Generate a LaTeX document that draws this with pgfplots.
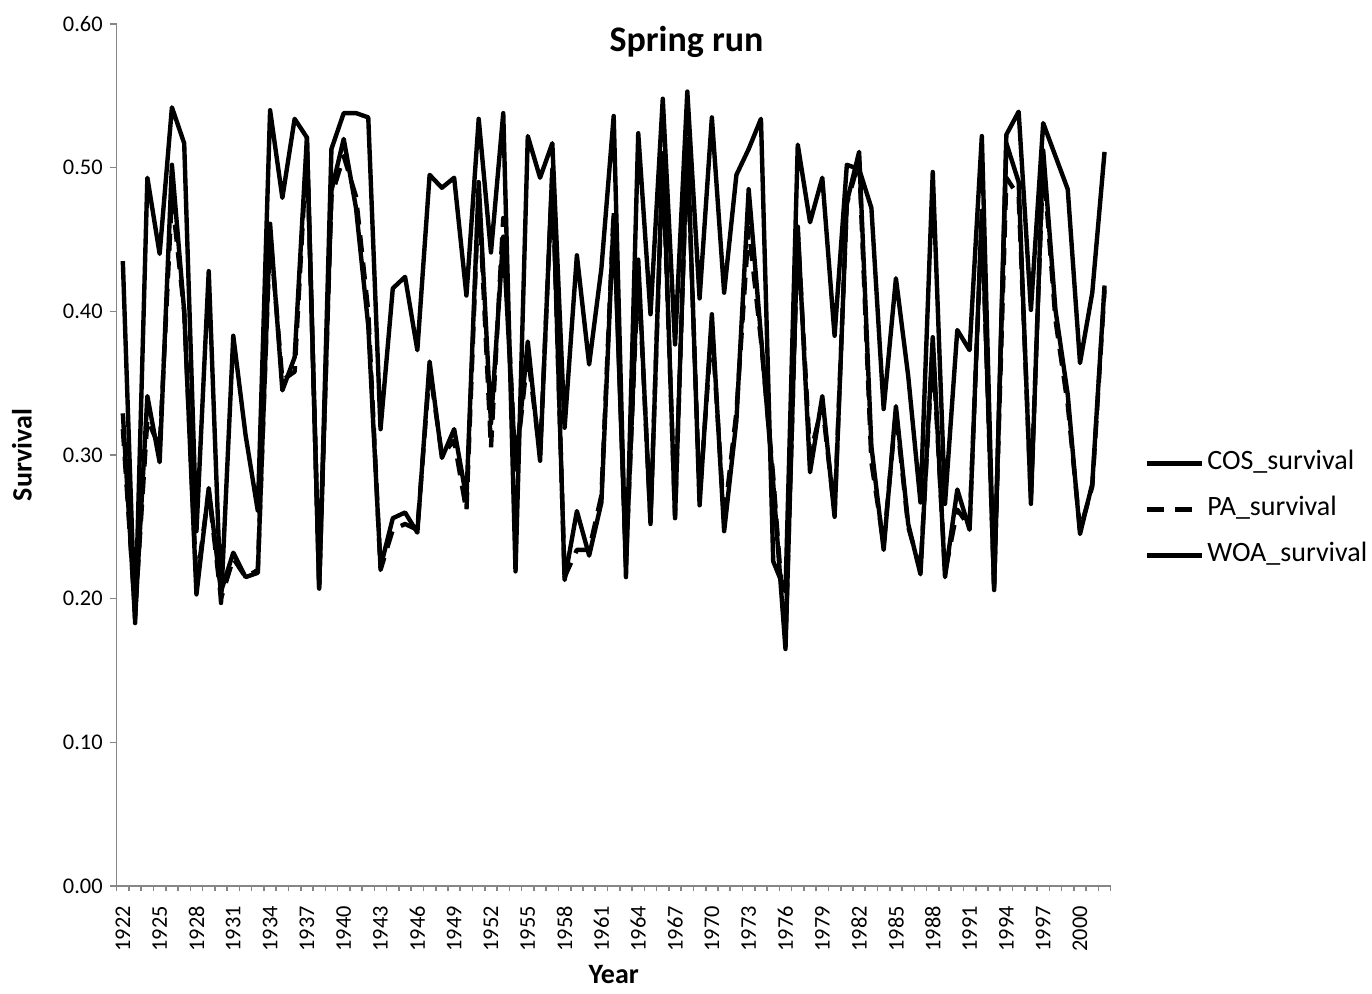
\documentclass[border=0pt]{standalone}
\usepackage{fontspec}
\setmainfont{Carlito}
\usepackage{pgfplots}
\usepackage{pgfplotstable}
\pgfplotsset{compat=1.18}
\definecolor{axgray}{RGB}{134,134,134}

\pgfplotstableread{
year woa cos pa
1922 0.435 0.329 0.318
1923 0.183 0.186 0.190
1924 0.493 0.341 0.325
1925 0.440 0.295 0.305
1926 0.542 0.502 0.480
1927 0.517 0.400 0.400
1928 0.247 0.203 0.210
1929 0.428 0.277 0.275
1930 0.197 0.205 0.200
1931 0.383 0.232 0.228
1932 0.314 0.215 0.215
1933 0.261 0.218 0.220
1934 0.540 0.461 0.455
1935 0.479 0.345 0.352
1936 0.534 0.368 0.358
1937 0.521 0.521 0.515
1938 0.207 0.208 0.210
1939 0.513 0.484 0.480
1940 0.538 0.520 0.508
1941 0.538 0.472 0.480
1942 0.535 0.390 0.400
1943 0.318 0.222 0.220
1944 0.416 0.256 0.248
1945 0.424 0.260 0.252
1946 0.373 0.246 0.248
1947 0.495 0.365 0.360
1948 0.486 0.298 0.300
1949 0.493 0.318 0.310
1950 0.411 0.270 0.261
1951 0.534 0.490 0.485
1952 0.441 0.322 0.305
1953 0.538 0.452 0.465
1954 0.219 0.291 0.290
1955 0.522 0.379 0.370
1956 0.493 0.296 0.300
1957 0.517 0.499 0.495
1958 0.319 0.213 0.215
1959 0.439 0.261 0.234
1960 0.363 0.230 0.234
1961 0.430 0.267 0.272
1962 0.536 0.466 0.470
1963 0.215 0.225 0.225
1964 0.524 0.436 0.430
1965 0.398 0.252 0.255
1966 0.548 0.510 0.505
1967 0.377 0.256 0.258
1968 0.553 0.520 0.515
1969 0.409 0.265 0.270
1970 0.535 0.398 0.390
1971 0.413 0.247 0.255
1972 0.495 0.324 0.330
1973 0.513 0.485 0.458
1974 0.534 0.383 0.380
1975 0.226 0.280 0.285
1976 0.205 0.165 0.170
1977 0.516 0.459 0.455
1978 0.462 0.288 0.300
1979 0.493 0.341 0.335
1980 0.383 0.257 0.260
1981 0.502 0.476 0.475
1982 0.499 0.511 0.505
1983 0.472 0.306 0.295
1984 0.332 0.234 0.238
1985 0.423 0.334 0.330
1986 0.355 0.252 0.250
1987 0.267 0.217 0.220
1988 0.497 0.382 0.375
1989 0.266 0.215 0.218
1990 0.387 0.276 0.262
1991 0.373 0.248 0.250
1992 0.522 0.470 0.465
1993 0.206 0.208 0.210
1994 0.523 0.517 0.493
1995 0.539 0.490 0.480
1996 0.401 0.266 0.270
1997 0.531 0.512 0.505
1998 0.508 0.401 0.394
1999 0.485 0.342 0.335
2000 0.364 0.245 0.248
2001 0.413 0.280 0.278
2002 0.511 0.418 0.415
}\survdata

\begin{document}
\begin{tikzpicture}
\begin{axis}[
  name=ax,
  scale only axis,
  width=497pt, height=431pt,
  xmin=1921.5, xmax=2002.5,
  ymin=0, ymax=0.6,
  axis x line*=bottom, axis y line*=left,
  axis line style={-, draw=axgray, line width=0.8pt},
  tick style={draw=axgray, line width=0.8pt},
  tick align=outside,
  major tick length=3.5pt,
  minor tick length=2.6pt,
  ytick={0,0.1,0.2,0.3,0.4,0.5,0.6},
  yticklabel style={/pgf/number format/.cd, fixed, fixed zerofill, precision=2, assume math mode=true},
  xtick={1922,1925,...,2000},
  xticklabel style={rotate=90, anchor=east, xshift=-3pt, /pgf/number format/.cd, 1000 sep={}, assume math mode=true},
  major x tick style={draw=none},
  minor xtick={1921.5,1922.5,...,2002.5},
  tick label style={font=\fontsize{11.2}{13}\selectfont, black},
  ylabel={\textbf{Survival}},
  ylabel style={at={(axis description cs:-0.0953,0.5)}, anchor=center, font=\fontsize{14}{16}\selectfont},
  xlabel={\textbf{Year}},
  xlabel style={at={(axis description cs:0.5,-0.1032)}, anchor=center, font=\fontsize{14}{16}\selectfont},
  legend style={at={(axis description cs:1.0345,0.437)}, anchor=west, draw=none, fill=none,
    inner sep=0pt, outer sep=0pt, row sep=10.5pt, column sep=0pt,
    font=\fontsize{14}{16}\selectfont,
    nodes={inner xsep=1.5pt, inner ysep=0pt, text height=9.5pt, text depth=3pt}},
  legend cell align=left,
  legend image code/.code={\draw[#1] (0pt,0pt) -- (27.5pt,0pt);},
]
\addplot[black, solid, line width=2.2pt, line join=round, no markers] table[x=year, y=cos] {\survdata};
\addlegendentry{COS\_survival}
\addplot[black, line width=2.2pt, line join=round, no markers, dash pattern=on 8.5pt off 5.3pt] table[x=year, y=pa] {\survdata};
\addlegendentry{PA\_survival}
\addplot[black, solid, line width=2.2pt, line join=round, no markers] table[x=year, y=woa] {\survdata};
\addlegendentry{WOA\_survival}
\end{axis}
\node[font=\fontsize{18}{20}\selectfont\bfseries, anchor=center] at ([xshift=284.9pt, yshift=422pt]ax.south west) {Spring run};
\pgfresetboundingbox
\path ([xshift=-58.35pt, yshift=-53.5pt]ax.south west) rectangle ([xshift=627.65pt, yshift=443pt]ax.south west);
\end{tikzpicture}
\end{document}
